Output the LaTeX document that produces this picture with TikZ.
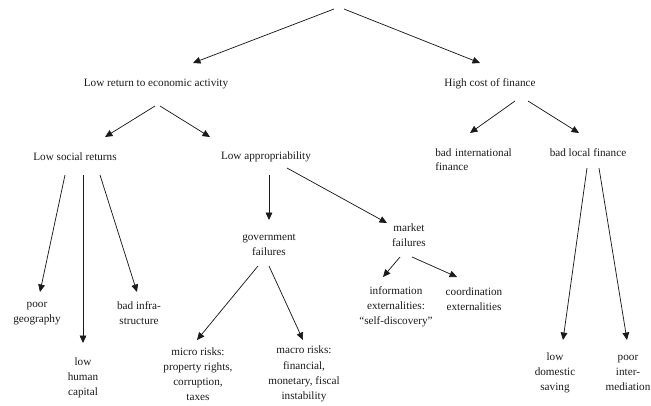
\documentclass[tikz,border=0pt]{standalone}
\usepackage{fontspec}
\setmainfont{Liberation Serif}
\usepackage{tikz}
\usetikzlibrary{arrows.meta}
\definecolor{inkdark}{HTML}{1A1A1A}
\tikzset{
  treenode/.style={
    inner sep=0pt, align=center, text=inkdark,
    font=\fontsize{8.4}{11.4}\selectfont
  },
  treearrow/.style={-{Triangle[length=5.6pt,width=5pt]}, line width=0.55pt, color=inkdark},
}

\begin{document}
\begin{tikzpicture}[x=0.75pt,y=-0.75pt]
  \useasboundingbox (0,0) rectangle (651,405);
  % top level
  \coordinate (root) at (339,9);
  \node[treenode] (lowret) at (156,84) {Low return to economic activity};
  \node[treenode] (highcost) at (490,84) {High cost of finance};
  % second level
  \node[treenode] (socret) at (75,157) {Low social returns};
  \node[treenode] (approp) at (266,157) {Low appropriability};
  \node[treenode, text width=58pt, align=left,
        font=\fontsize{8.4}{10}\selectfont] (intfin) at (474,159.5) {bad international\\finance};
  \node[treenode] (locfin) at (588,153) {bad local finance};
  % third level
  \node[treenode] (geo) at (37,313.5) {poor\\geography};
  \node[treenode] (humcap) at (83,378) {low\\human\\capital};
  \node[treenode] (infra) at (139,313.5) {bad infra-\\structure};
  \node[treenode] (govfail) at (269,245) {government\\failures};
  \node[treenode] (mktfail) at (409,235.5) {market\\failures};
  \node[treenode] (micro) at (198,374) {micro risks:\\property rights,\\corruption,\\taxes};
  \node[treenode] (macro) at (304,374) {macro risks:\\financial,\\monetary, fiscal\\instability};
  \node[treenode] (infoext) at (396,307) {information\\externalities:\\``self-discovery''};
  \node[treenode] (coordext) at (474,299.5) {coordination\\externalities};
  \node[treenode] (saving) at (555,373) {low\\domestic\\saving};
  \node[treenode] (intermed) at (628,373) {poor\\inter-\\mediation};

  \draw[treearrow] ([shift={(-5,0)}]root) -- ([shift={(37,-21)}]lowret.center);
  \draw[treearrow] ([shift={(5,0)}]root) -- ([shift={(-10,-21)}]highcost.center);
  \draw[treearrow] ([shift={(-1,22)}]lowret.center) -- ([shift={(30,-20)}]socret.center);
  \draw[treearrow] ([shift={(4,22)}]lowret.center) -- ([shift={(-56,-20)}]approp.center);
  \draw[treearrow] ([shift={(25,17)}]highcost.center) -- ([shift={(-4,-26.5)}]intfin.center);
  \draw[treearrow] ([shift={(38,17)}]highcost.center) -- ([shift={(-9,-20)}]locfin.center);
  \draw[treearrow] ([shift={(-10,18)}]socret.center) -- ([shift={(3,-21.5)}]geo.center);
  \draw[treearrow] ([shift={(8,18)}]socret.center) -- ([shift={(0,-35)}]humcap.center);
  \draw[treearrow] ([shift={(25,18)}]socret.center) -- ([shift={(-2,-21.5)}]infra.center);
  \draw[treearrow] ([shift={(3,18)}]approp.center) -- ([shift={(0,-25)}]govfail.center);
  \draw[treearrow] ([shift={(21,11)}]approp.center) -- ([shift={(-22,-12.5)}]mktfail.center);
  \draw[treearrow] ([shift={(-11,21)}]govfail.center) -- ([shift={(-1,-34)}]micro.center);
  \draw[treearrow] ([shift={(0,21)}]govfail.center) -- ([shift={(-1,-34)}]macro.center);
  \draw[treearrow] ([shift={(-9,21.5)}]mktfail.center) -- ([shift={(-13,-30)}]infoext.center);
  \draw[treearrow] ([shift={(3,21.5)}]mktfail.center) -- ([shift={(-17,-22.5)}]coordext.center);
  \draw[treearrow] ([shift={(-1,15)}]locfin.center) -- ([shift={(8,-33)}]saving.center);
  \draw[treearrow] ([shift={(11,15)}]locfin.center) -- ([shift={(-1,-33)}]intermed.center);
\end{tikzpicture}
\end{document}
